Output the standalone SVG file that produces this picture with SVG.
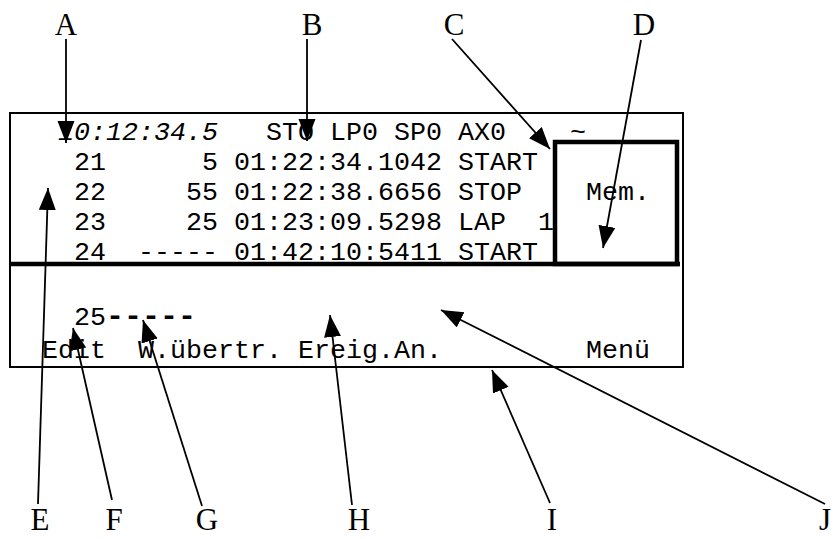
<svg xmlns="http://www.w3.org/2000/svg" width="835" height="539" viewBox="0 0 835 539">
<style>
.m{font-family:"Courier New","Liberation Mono",monospace;font-size:26.67px;fill:#000}
.i{font-style:italic}
.b{font-weight:bold;font-size:30px}
.l{font-family:"Liberation Serif","Times New Roman",serif;font-size:31px;fill:#000;text-anchor:middle}
.c{stroke:#000;stroke-width:1.8;fill:none;marker-end:url(#ah)}
</style>
<defs>
<marker id="ah" markerUnits="userSpaceOnUse" markerWidth="24" markerHeight="18" refX="22" refY="8.5" orient="auto">
<path d="M0,0 L22,8.5 L0,17 z" fill="#000"/>
</marker>
</defs>
<rect width="835" height="539" fill="#fff"/>
<g id="display">
<rect x="10" y="113" width="673" height="254" fill="none" stroke="#000" stroke-width="2"/>
<line x1="10" y1="264" x2="680" y2="264" stroke="#000" stroke-width="4.5"/>
<g id="header">
<text class="m i" x="58" y="140">10:12:34.5</text>
<text class="m" x="266" y="140">STO</text>
<text class="m" x="330" y="140">LP0</text>
<text class="m" x="394" y="140">SP0</text>
<text class="m" x="458" y="140">AX0</text>
<text class="m" x="570" y="140">~</text>
</g>
<g id="rows">
<text class="m" x="74" y="170">21</text><text class="m" x="202" y="170">5</text><text class="m" x="234" y="170">01:22:34.1042</text><text class="m" x="458" y="170">START</text>
<text class="m" x="74" y="200">22</text><text class="m" x="186" y="200">55</text><text class="m" x="234" y="200">01:22:38.6656</text><text class="m" x="458" y="200">STOP</text>
<text class="m" x="74" y="230">23</text><text class="m" x="186" y="230">25</text><text class="m" x="234" y="230">01:23:09.5298</text><text class="m" x="458" y="230">LAP</text><text class="m" x="538" y="230">1</text>
<text class="m" x="74" y="260">24</text><text class="m" x="138" y="260">-----</text><text class="m" x="234" y="260">01:42:10:5411</text><text class="m" x="458" y="260">START</text>
</g>
<g id="input">
<text class="m" x="74" y="325">25</text><text class="m b" x="106" y="325">-----</text>
</g>
<g id="softkeys">
<text class="m" x="42" y="358">Edit</text>
<text class="m" x="138" y="358">W.übertr.</text>
<text class="m" x="298" y="358">Ereig.An.</text>
<text class="m" x="586" y="358">Menü</text>
</g>
</g>
<g id="mem">
<rect x="555" y="142" width="122" height="122" fill="none" stroke="#000" stroke-width="4.5"/>
<text class="m" x="586" y="200">Mem.</text>
</g>
<g id="labels">
<g id="A"><text class="l" x="66" y="35">A</text></g>
<g id="B"><text class="l" x="312" y="35">B</text></g>
<g id="C"><text class="l" x="454" y="35">C</text></g>
<g id="D"><text class="l" x="644" y="35">D</text></g>
<g id="E"><text class="l" x="40" y="530">E</text></g>
<g id="F"><text class="l" x="114" y="530">F</text></g>
<g id="G"><text class="l" x="207" y="530">G</text></g>
<g id="H"><text class="l" x="359" y="530">H</text></g>
<g id="I"><text class="l" x="552" y="530">I</text></g>
<g id="J"><text class="l" x="825" y="530">J</text></g>
</g>
<g id="connectors">
<line class="c" x1="66" y1="39" x2="66" y2="143"/>
<line class="c" x1="307" y1="39" x2="307" y2="141"/>
<line class="c" x1="452" y1="39" x2="550" y2="149"/>
<line class="c" x1="641" y1="40" x2="603" y2="248"/>
<line class="c" x1="38" y1="504" x2="48" y2="188"/>
<line class="c" x1="112" y1="500" x2="73" y2="328"/>
<line class="c" x1="202" y1="506" x2="143" y2="320"/>
<line class="c" x1="352" y1="505" x2="330" y2="315"/>
<line class="c" x1="550" y1="503" x2="492" y2="370"/>
<line class="c" x1="825" y1="504" x2="441" y2="310"/>
</g>
</svg>
